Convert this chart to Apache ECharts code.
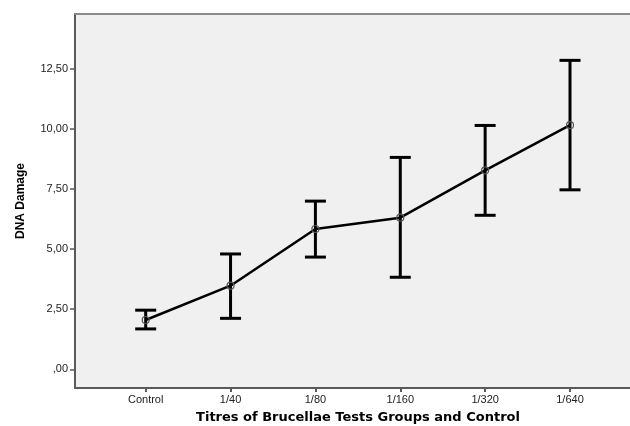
<!DOCTYPE html>
<html>
<head>
<meta charset="utf-8">
<script src="https://cdn.jsdelivr.net/npm/echarts@6/dist/echarts.min.js"></script>
<style>
  html, body { margin: 0; padding: 0; background: #ffffff; }
  #chart { width: 630px; height: 426px; }
</style>
</head>
<body>
<div id="chart"></div>
<script>
// Groups on the horizontal axis
const categories = ['Control', '1/40', '1/80', '1/160', '1/320', '1/640'];
// Mean DNA damage per group
const means = [2.05, 3.48, 5.84, 6.31, 8.28, 10.16];
// Error bar limits per group
const lower = [1.68, 2.12, 4.67, 3.83, 6.41, 7.47];
const upper = [2.46, 4.80, 7.00, 8.82, 10.15, 12.86];
// Tick values for the value axis
const yTicks = [0, 2.5, 5, 7.5, 10, 12.5];

function fmtComma(v) {
  let s = v.toFixed(2).replace('.', ',');
  if (s.startsWith('0,')) s = s.slice(1);
  return s;
}

const chart = echarts.init(document.getElementById('chart'), null, { renderer: 'canvas' });

const lineData = means.map((m, i) => [i, m]);
const errData = means.map((m, i) => [i, lower[i], upper[i]]);
const catIdx = categories.map((c, i) => i);

chart.setOption({
  animation: false,
  backgroundColor: '#ffffff',
  grid: {
    left: 75, top: 14, right: 0, bottom: 38,
    show: true, backgroundColor: '#f0f0f0', borderWidth: 0
  },
  xAxis: [{
    type: 'value',
    min: -0.833, max: 5.707,
    splitLine: { show: false },
    axisLine: { show: true, onZero: false, lineStyle: { color: '#5a5a5a', width: 2 } },
    axisTick: { show: true, customValues: catIdx, length: 4, lineStyle: { color: '#5a5a5a', width: 2 } },
    axisLabel: {
      customValues: catIdx,
      formatter: v => categories[Math.round(v)],
      color: '#222', fontFamily: 'Liberation Sans, Arial', fontSize: 11, margin: 6
    }
  }, {
    type: 'value', position: 'top',
    min: -0.833, max: 5.707,
    splitLine: { show: false },
    axisLine: { show: true, onZero: false, lineStyle: { color: '#8a8a8a', width: 2 } },
    axisTick: { show: false }, axisLabel: { show: false }
  }],
  yAxis: {
    type: 'value',
    min: -0.78, max: 14.79,
    splitLine: { show: false },
    axisLine: { show: true, onZero: false, lineStyle: { color: '#5a5a5a', width: 2 } },
    axisTick: { show: true, customValues: yTicks, length: 5, lineStyle: { color: '#5a5a5a', width: 1.5 } },
    axisLabel: {
      customValues: yTicks,
      formatter: v => fmtComma(v),
      color: '#222', fontFamily: 'Liberation Sans, Arial', fontSize: 11, margin: 7
    }
  },
  graphic: [
    {
      type: 'text', x: 21, y: 201, rotation: Math.PI / 2,
      style: {
        text: 'DNA Damage', fill: '#000', font: 'bold 12px "Liberation Sans", Arial',
        align: 'center', verticalAlign: 'middle'
      }
    },
    {
      type: 'text', x: 358, y: 418,
      style: {
        text: 'Titres of Brucellae Tests Groups and Control', fill: '#000',
        font: 'bold 13px "DejaVu Sans", sans-serif',
        align: 'center', verticalAlign: 'middle'
      }
    }
  ],
  series: [
    {
      type: 'custom',
      data: errData,
      z: 3,
      renderItem: function (params, api) {
        const x = api.value(0);
        const lo = api.coord([x, api.value(1)]);
        const hi = api.coord([x, api.value(2)]);
        const hw = 10.5;
        const st = { stroke: '#000', lineWidth: 3 };
        return {
          type: 'group',
          children: [
            { type: 'line', shape: { x1: lo[0], y1: lo[1], x2: hi[0], y2: hi[1] }, style: st },
            { type: 'line', shape: { x1: lo[0] - hw, y1: lo[1], x2: lo[0] + hw, y2: lo[1] }, style: st },
            { type: 'line', shape: { x1: hi[0] - hw, y1: hi[1], x2: hi[0] + hw, y2: hi[1] }, style: st }
          ]
        };
      }
    },
    {
      type: 'line',
      data: lineData,
      z: 4,
      lineStyle: { color: '#000', width: 2.5 },
      symbol: 'circle',
      symbolSize: 7,
      itemStyle: { color: 'rgba(0,0,0,0)', borderColor: '#555', borderWidth: 1.2 }
    }
  ]
});
</script>
</body>
</html>
